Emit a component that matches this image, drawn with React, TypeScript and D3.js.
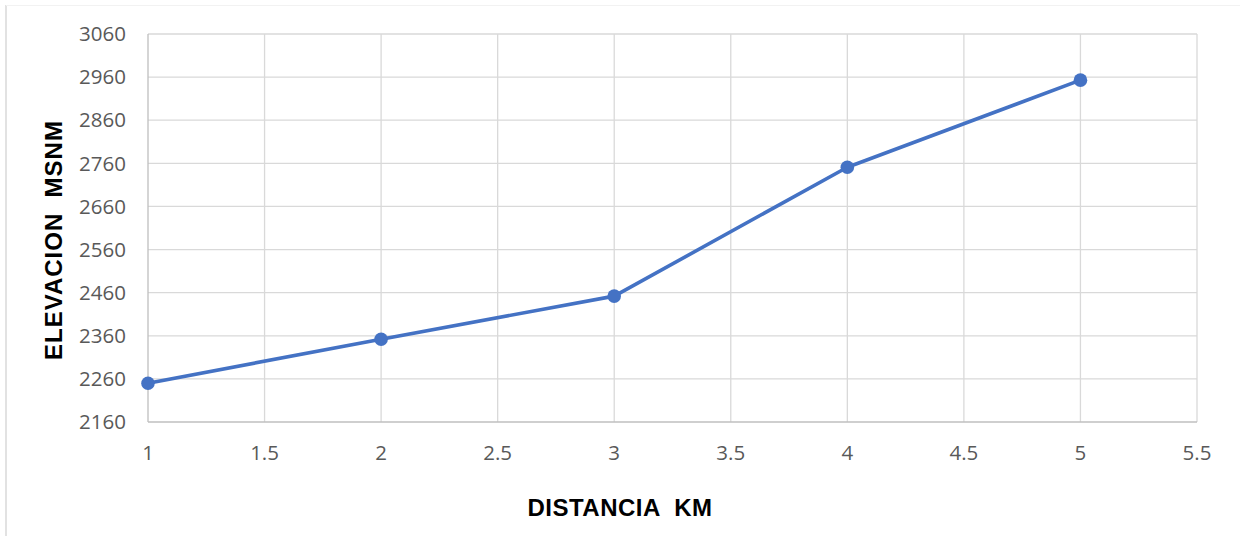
import React from "react";
import * as d3 from "d3";

const distances = [1, 2, 3, 4, 5];
const elevations = [2250, 2352, 2452, 2751, 2953];
const xTicks = [1, 1.5, 2, 2.5, 3, 3.5, 4, 4.5, 5, 5.5];
const yTicks = [2160, 2260, 2360, 2460, 2560, 2660, 2760, 2860, 2960, 3060];

const W = 1240, H = 536;
const m = { left: 148, right: 1197, top: 34, bottom: 422 };

export default function App() {
  const x = d3.scaleLinear().domain([1, 5.5]).range([m.left, m.right]);
  const y = d3.scaleLinear().domain([2160, 3060]).range([m.bottom, m.top]);
  const pts = distances.map((d, i) => [x(d), y(elevations[i])] as [number, number]);
  const line = d3.line()(pts) || "";
  const font = "'Open Sans', 'Liberation Sans', sans-serif";
  const titleFont = "'Liberation Sans', Arial, sans-serif";
  return (
    <svg width={W} height={H} style={{ position: "absolute", left: 0, top: 0, background: "#fff" }}>
      <line x1={6} x2={6} y1={5} y2={H} stroke="#d9d9d9" strokeWidth={1.5} />
      <line x1={6} x2={W} y1={5.5} y2={5.5} stroke="#f2f2f2" strokeWidth={1} />
      {yTicks.slice(1).map((t) => (
        <line key={"gy" + t} x1={m.left} x2={m.right} y1={y(t)} y2={y(t)} stroke="#d9d9d9" strokeWidth={1.3} />
      ))}
      {xTicks.slice(1).map((t) => (
        <line key={"gx" + t} x1={x(t)} x2={x(t)} y1={m.top} y2={m.bottom} stroke="#d9d9d9" strokeWidth={1.3} />
      ))}
      <line x1={m.left} x2={m.left} y1={m.top} y2={m.bottom} stroke="#bfbfbf" strokeWidth={1.3} />
      <line x1={m.left} x2={m.right} y1={m.bottom} y2={m.bottom} stroke="#bfbfbf" strokeWidth={1.3} />
      {yTicks.map((t) => (
        <text key={"ty" + t} x={126} y={y(t)} dy="0.35em" textAnchor="end" fontSize={20.5} fill="#595959" fontFamily={font}>
          {t}
        </text>
      ))}
      {xTicks.map((t) => (
        <text key={"tx" + t} x={x(t)} y={453} dy="0.35em" textAnchor="middle" fontSize={20.5} fill="#595959" fontFamily={font}>
          {t}
        </text>
      ))}
      <path d={line} fill="none" stroke="#4472C4" strokeWidth={3.6} strokeLinejoin="round" />
      {pts.map(([px, py], i) => (
        <circle key={i} cx={px} cy={py} r={6.8} fill="#4472C4" />
      ))}
      <text x={620} y={508} dy="0.35em" textAnchor="middle" fontSize={24} fontWeight="bold" fill="#000" fontFamily={titleFont} letterSpacing={0.5} style={{ whiteSpace: "pre" }}>
        {"DISTANCIA  KM"}
      </text>
      <text transform={`translate(54,240) rotate(-90)`} dy="0.35em" textAnchor="middle" fontSize={24} fontWeight="bold" fill="#000" fontFamily={titleFont} letterSpacing={1} style={{ whiteSpace: "pre" }}>
        {"ELEVACION  MSNM"}
      </text>
    </svg>
  );
}
